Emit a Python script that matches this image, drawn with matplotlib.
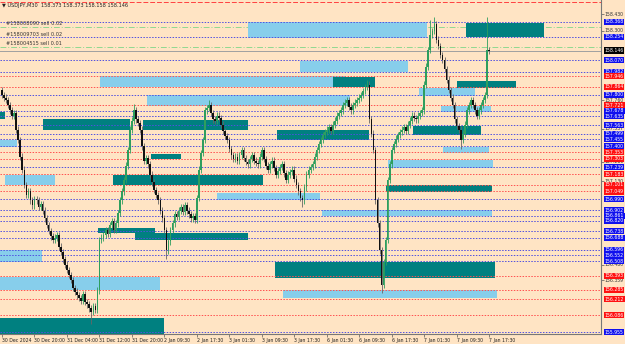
import numpy as np
import matplotlib.pyplot as plt
from matplotlib.patches import Rectangle
import matplotlib.transforms as mtransforms

# M30 closes (bar 0 = 30 Dec 2024 12:00)
closes = [
    157.80, 157.78, 157.76, 157.72, 157.68, 157.64, 157.66, 157.53, 157.45, 157.32,
    157.22, 157.10, 157.02, 157.05, 156.98, 156.94, 156.99, 156.98, 156.93, 156.95,
    156.90, 156.84, 156.79, 156.74, 156.70, 156.67, 156.69, 156.71, 156.62, 156.58,
    156.52, 156.48, 156.44, 156.40, 156.36, 156.30, 156.27, 156.24, 156.22, 156.20,
    156.25, 156.19, 156.17, 156.14, 156.11, 156.16, 156.13, 156.28, 156.67, 156.69,
    156.71, 156.75, 156.72, 156.79, 156.82, 156.75, 156.80, 156.88, 156.98, 157.05,
    157.14, 157.25, 157.37, 157.53, 157.60, 157.68, 157.61, 157.58, 157.53, 157.40,
    157.29, 157.31, 157.26, 157.18, 157.12, 157.06, 157.02, 156.98, 156.90, 156.84,
    156.75, 156.59, 156.66, 156.75, 156.80, 156.87, 156.85, 156.90, 156.93, 156.89,
    156.94, 156.90, 156.87, 156.84, 156.86, 156.83, 157.00, 157.22, 157.35, 157.45,
    157.68, 157.70, 157.72, 157.66, 157.61, 157.60, 157.64, 157.62, 157.57, 157.52,
    157.48, 157.45, 157.38, 157.33, 157.30, 157.32, 157.29, 157.33, 157.37, 157.31,
    157.28, 157.26, 157.30, 157.33, 157.29, 157.27, 157.26, 157.32, 157.37, 157.30,
    157.25, 157.22, 157.26, 157.29, 157.23, 157.18, 157.21, 157.24, 157.26, 157.19,
    157.14, 157.18, 157.20, 157.22, 157.15, 157.10, 157.05, 157.00, 156.98, 157.08,
    157.18, 157.22, 157.24, 157.26, 157.32, 157.37, 157.42, 157.45, 157.49, 157.51,
    157.53, 157.55, 157.52, 157.57, 157.60, 157.64, 157.66, 157.68, 157.72, 157.74,
    157.76, 157.71, 157.68, 157.72, 157.74, 157.76, 157.78, 157.80, 157.83, 157.86,
    157.88, 157.61, 157.50, 157.37, 156.98, 156.80, 156.59, 156.32, 156.50, 156.67,
    157.14, 157.26, 157.37, 157.42, 157.46, 157.49, 157.51, 157.53, 157.55, 157.52,
    157.57, 157.60, 157.64, 157.62, 157.61, 157.64, 157.66, 157.68, 157.88, 158.02,
    158.15, 158.27, 158.30, 158.35, 158.23, 158.18, 158.11, 158.07, 158.00, 157.92,
    157.84, 157.78, 157.72, 157.61, 157.56, 157.53, 157.45, 157.50, 157.57, 157.68,
    157.72, 157.76, 157.72, 157.68, 157.64, 157.68, 157.72, 157.76, 157.80, 158.15,
    158.146,
]
open0 = 157.84
# notable wick extremes
spike_highs = {0: 157.86, 65: 157.73, 102: 157.76, 180: 157.92, 211: 158.38, 213: 158.41, 239: 158.41}
spike_lows = {44: 156.02, 81: 156.52, 148: 156.93, 187: 156.26, 226: 157.38}

# zones: (first bar, last bar, low price, high price)
teal_zones = [
    (-1, 80, 155.94, 156.065),
    (-1, 1.5, 157.613, 157.667),
    (20.2, 63.1, 157.527, 157.613),
    (69.5, 121.2, 157.527, 157.605),
    (73.4, 88.2, 157.302, 157.341),
    (54.7, 128.6, 157.099, 157.177),
    (135.5, 180.8, 157.45, 157.527),
    (163, 183.7, 157.862, 157.94),
    (224, 253.2, 157.854, 157.909),
    (228.6, 267, 158.251, 158.36),
    (202.5, 236, 157.488, 157.558),
    (189.2, 241.4, 157.045, 157.099),
    (65.5, 121.2, 156.671, 156.726),
    (47.3, 75.4, 156.726, 156.765),
    (134.5, 242.8, 156.376, 156.50),
]
blue_zones = [
    (121.2, 209.4, 158.243, 158.368),
    (146.8, 200, 157.979, 158.064),
    (48.3, 169, 157.862, 157.948),
    (71.4, 171.4, 157.714, 157.80),
    (-1, 7.4, 157.395, 157.45),
    (1.5, 26.1, 157.099, 157.177),
    (105.9, 156.7, 156.983, 157.037),
    (-1, 19.7, 156.50, 156.594),
    (-1, 77.8, 156.282, 156.383),
    (138.4, 243.8, 156.22, 156.282),
    (157.6, 241.4, 156.858, 156.905),
    (190.1, 241.9, 157.232, 157.294),
    (205.4, 233, 157.792, 157.854),
    (216.3, 240.9, 157.667, 157.714),
    (217.2, 239.9, 157.348, 157.395),
]

blue_levels = [158.368, 158.254, 158.070, 157.982, 157.800, 157.678, 157.635, 157.563,
               157.499, 157.455, 157.400, 157.239, 156.990, 156.902, 156.861, 156.820,
               156.738, 156.688, 156.596, 156.552, 156.508, 155.955]
red_levels = [157.946, 157.864, 157.721, 157.353, 157.303, 157.183, 157.101, 157.049,
              156.393, 156.285, 156.212, 156.086]
axis_prices = [158.430, 158.300, 157.760, 157.537, 157.280, 157.130, 156.480, 156.359]
green_levels = [158.329, 158.173]
top_red_level = 158.52
current_price = 158.146
order_tags = [("#158008090 sell 0.02", 158.360),
              ("#158009703 sell 0.02", 158.267),
              ("#158004515 sell 0.01", 158.204)]
time_labels = ["30 Dec 2024", "30 Dec 20:00", "31 Dec 04:00", "31 Dec 12:00", "31 Dec 20:00",
               "2 Jan 09:30", "2 Jan 17:30", "3 Jan 01:30", "3 Jan 09:30", "3 Jan 17:30",
               "6 Jan 01:30", "6 Jan 09:30", "6 Jan 17:30", "7 Jan 01:30", "7 Jan 09:30",
               "7 Jan 17:30"]
time_ticks = list(range(0, 241, 16))

BG = "#ffe4c4"
fig = plt.figure(figsize=(6.25, 3.44), dpi=100, facecolor=BG)
ax = fig.add_axes([0, 10 / 344, 601 / 625, 334 / 344])
ax.set_facecolor(BG)
ax.set_xlim(-0.985, 295.1)
ax.set_ylim(155.940, 158.539)

# green order lines sit behind the zones
for p in green_levels:
    ax.axhline(p, color="#90d890", lw=0.7, ls=(0, (6, 2, 1, 2)), zorder=0.9)

# zones
for x0, x1, lo, hi in blue_zones:
    ax.add_patch(Rectangle((x0, lo), x1 - x0, hi - lo, color="#87ceeb", lw=0, zorder=1))
for x0, x1, lo, hi in teal_zones:
    ax.add_patch(Rectangle((x0, lo), x1 - x0, hi - lo, color="#008080", lw=0, zorder=1.5))

# level lines
for p in blue_levels:
    ax.axhline(p, color="#5050e0", lw=0.7, ls=(0, (1.5, 1.5)), zorder=2)
for p in red_levels:
    ax.axhline(p, color="#ff5050", lw=0.7, ls=(0, (1.5, 1.5)), zorder=2)
ax.axhline(top_red_level, color="#ff4040", lw=0.7, ls=(0, (5, 2)), zorder=2)
ax.axhline(current_price, color="#a0a0a0", lw=0.7, zorder=2)

# candles
opens = [open0] + closes[:-1]
for i, (o, c) in enumerate(zip(opens, closes)):
    hi = spike_highs.get(i, max(o, c) + 0.025)
    lo = spike_lows.get(i, min(o, c) - 0.025)
    col = "#2e9e5e" if c >= o else "#111111"
    ax.vlines(i, lo, hi, color="#666666" if c < o else col, lw=0.6, zorder=3)
    ax.add_patch(Rectangle((i - 0.4, min(o, c)), 0.8, max(abs(c - o), 0.006),
                           color=col, lw=0, zorder=3.5))

# texts
ax.text(0.004, 0.99, "\u25bc USDJPY,M30  158.373 158.373 158.158 158.146",
        transform=ax.transAxes, fontsize=3.6, va="top", ha="left", color="#222222")
for txt, p in order_tags:
    ax.text(2, p, txt, fontsize=3.6, va="center", ha="left", color="#333333", zorder=4)

# right price scale
trans = mtransforms.blended_transform_factory(ax.transAxes, ax.transData)
lab = dict(transform=trans, fontsize=3.3, va="center", ha="left", clip_on=False)
for p in axis_prices:
    ax.text(1.006, p, f"{p:.3f}", color="#333333", **lab)
for p in blue_levels:
    ax.text(1.006, p, f"{p:.3f}", color="white",
            bbox=dict(boxstyle="square,pad=0.12", fc="#1010ee", ec="none"), **lab)
for p in red_levels:
    ax.text(1.006, p, f"{p:.3f}", color="white",
            bbox=dict(boxstyle="square,pad=0.12", fc="#ff1010", ec="none"), **lab)
ax.text(1.006, current_price, f"{current_price:.3f}", color="white",
        bbox=dict(boxstyle="square,pad=0.12", fc="black", ec="none"), **lab)

# axes styling
ax.set_yticks(axis_prices)
ax.yaxis.tick_right()
ax.tick_params(axis="y", length=2, width=0.5, labelright=False, colors="#555555")
ax.set_xticks(time_ticks)
ax.set_xticklabels(time_labels, fontsize=3.3, ha="left")
ax.tick_params(axis="x", length=2, width=0.5, pad=1, colors="#555555")
for lbl in ax.get_xticklabels():
    lbl.set_color("#222222")
for side in ["top", "left"]:
    ax.spines[side].set_visible(False)
ax.spines["right"].set_color("#777777")
ax.spines["bottom"].set_color("#777777")
ax.spines["right"].set_linewidth(0.8)
ax.spines["bottom"].set_linewidth(0.8)

fig.savefig("out.png", dpi=100, facecolor=BG)
